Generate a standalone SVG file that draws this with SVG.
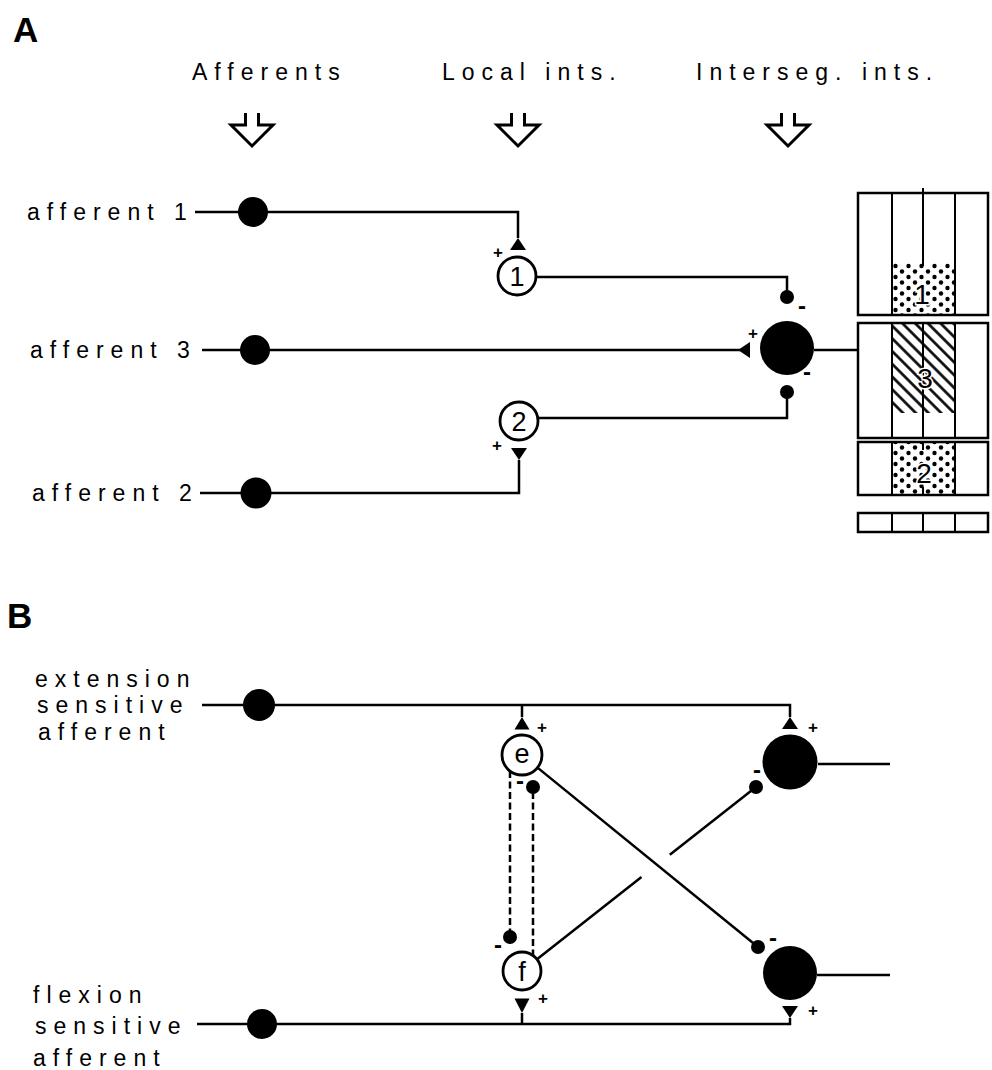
<svg xmlns="http://www.w3.org/2000/svg" width="992" height="1070" viewBox="0 0 992 1070">
<style>
.ln{stroke:#000;stroke-width:2.5;fill:none}
.dsh{stroke:#000;stroke-width:2.5;fill:none;stroke-dasharray:7 3.5}
.soma{fill:#000}
.int{fill:#fff;stroke:#000;stroke-width:2.8}
.tri{fill:#000}
.lbl{font-family:"Liberation Sans",Arial,sans-serif;font-size:23px;letter-spacing:7px;fill:#000}
.hd{font-family:"Liberation Sans",Arial,sans-serif;font-size:35px;font-weight:bold;fill:#000}
.num{font-family:"Liberation Sans",Arial,sans-serif;font-size:27px;fill:#000;text-anchor:middle}
.bnum{font-family:"Liberation Sans",Arial,sans-serif;font-size:28px;fill:#000;text-anchor:middle;stroke:#fff;stroke-width:3;paint-order:stroke}
.pl{font-family:"Liberation Sans",Arial,sans-serif;font-size:17px;font-weight:bold;fill:#000;text-anchor:middle}
.mi{font-family:"Liberation Sans",Arial,sans-serif;font-size:24px;font-weight:bold;fill:#000;text-anchor:middle}
.box{fill:none;stroke:#000;stroke-width:2.5}
.div{stroke:#000;stroke-width:2}
.arr{fill:none;stroke:#000;stroke-width:3;stroke-linejoin:miter}
</style>
<defs>
<pattern id="dots" width="13" height="11" patternUnits="userSpaceOnUse" x="892" y="263">
<rect width="13" height="11" fill="#fff"/>
<circle cx="3.5" cy="3" r="2.2" fill="#000"/>
<circle cx="10" cy="8.5" r="2.2" fill="#000"/>
</pattern>
<pattern id="hatch" width="9" height="9" patternUnits="userSpaceOnUse" patternTransform="rotate(-45)">
<rect width="9" height="9" fill="#fff"/>
<line x1="4.5" y1="0" x2="4.5" y2="9" stroke="#000" stroke-width="2.6"/>
</pattern>
<path id="hollowArrow" class="arr" d="M -6.5 0 V 12 H -21 L 0 33 L 21 12 H 6.5 V 0"/>
</defs>

<!-- Panel A headings -->
<text class="hd" x="13" y="42">A</text>
<text class="lbl" x="192" y="80">Afferents</text>
<text class="lbl" x="442" y="80">Local ints.</text>
<text class="lbl" x="696" y="80">Interseg. ints.</text>
<g id="header-arrows">
<use href="#hollowArrow" x="252" y="113"/>
<use href="#hollowArrow" x="518" y="113"/>
<use href="#hollowArrow" x="788" y="113"/>
</g>

<!-- Panel A connectors -->
<g id="connectors-A">
<path class="ln" d="M 195 212 H 518 V 238"/>
<polygon class="tri" points="518,238 510,250 526,250"/>
<path class="ln" d="M 536 277 H 787 V 297"/>
<path class="ln" d="M 202 350 H 740"/>
<polygon class="tri" points="738,350 750,342 750,358"/>
<path class="ln" d="M 814 350 H 858"/>
<path class="ln" d="M 787 392 V 418 H 538"/>
<path class="ln" d="M 200 493 H 519 V 460"/>
<polygon class="tri" points="519,460 511,448 527,448"/>
<circle class="soma" cx="787" cy="297" r="7"/>
<circle class="soma" cx="787" cy="392" r="7"/>
<text class="pl" x="498" y="258">+</text>
<text class="pl" x="497" y="451">+</text>
<text class="pl" x="753" y="339">+</text>
<text class="mi" x="802" y="314">-</text>
<text class="mi" x="807" y="380">-</text>
</g>

<!-- Panel A nodes -->
<g id="afferent1">
<text class="lbl" x="27" y="220">afferent 1</text>
<circle class="soma" cx="253" cy="212" r="15"/>
</g>
<g id="afferent3">
<text class="lbl" x="30" y="358">afferent 3</text>
<circle class="soma" cx="255" cy="350" r="15"/>
</g>
<g id="afferent2">
<text class="lbl" x="32" y="501">afferent 2</text>
<circle class="soma" cx="256" cy="493" r="15.5"/>
</g>
<g id="local1">
<circle class="int" cx="517" cy="276" r="19"/>
<text class="num" x="517" y="286">1</text>
</g>
<g id="local2">
<circle class="int" cx="519" cy="421" r="19"/>
<text class="num" x="519" y="431">2</text>
</g>
<g id="interseg">
<circle class="soma" cx="787" cy="348" r="27"/>
</g>

<!-- Boxes -->
<g id="box1">
<rect x="892" y="263" width="63" height="52" fill="url(#dots)"/>
<rect class="box" x="858" y="193" width="130" height="122"/>
<line class="div" x1="892" y1="193" x2="892" y2="315"/>
<line class="div" x1="955" y1="193" x2="955" y2="315"/>
<line class="div" x1="923" y1="188" x2="923" y2="266"/>
<text class="bnum" x="922" y="304">1</text>
</g>
<g id="box3">
<rect x="892" y="323" width="63" height="90" fill="url(#hatch)"/>
<rect class="box" x="858" y="323" width="130" height="115"/>
<line class="div" x1="892" y1="323" x2="892" y2="438"/>
<line class="div" x1="955" y1="323" x2="955" y2="438"/>
<line class="div" x1="923" y1="323" x2="923" y2="438"/>
<text class="bnum" x="925" y="388">3</text>
</g>
<g id="box2">
<rect x="892" y="442" width="63" height="53" fill="url(#dots)"/>
<rect class="box" x="858" y="442" width="130" height="53"/>
<line class="div" x1="892" y1="442" x2="892" y2="495"/>
<line class="div" x1="955" y1="442" x2="955" y2="495"/>
<line class="div" x1="923" y1="442" x2="923" y2="450"/>
<line class="div" x1="923" y1="487" x2="923" y2="495"/>
<text class="bnum" x="924" y="483">2</text>
</g>
<g id="box4">
<rect class="box" x="858" y="513" width="130" height="19"/>
<line class="div" x1="892" y1="513" x2="892" y2="532"/>
<line class="div" x1="923" y1="513" x2="923" y2="532"/>
<line class="div" x1="955" y1="513" x2="955" y2="532"/>
</g>

<!-- Panel B -->
<text class="hd" x="7" y="628">B</text>
<g id="connectors-B">
<path class="ln" d="M 202 705 H 790 V 717"/>
<path class="ln" d="M 522 705 V 717"/>
<polygon class="tri" points="522,717 514.5,729.5 529.5,729.5"/>
<polygon class="tri" points="790,717 782,729 798,729"/>
<path class="ln" d="M 197 1024 H 790 V 1018"/>
<path class="ln" d="M 522 1024 V 1013"/>
<polygon class="tri" points="522,1013 514.5,998.5 529.5,998.5"/>
<polygon class="tri" points="790,1018 782,1006 798,1006"/>
<path class="ln" d="M 818 764 H 890"/>
<path class="ln" d="M 817 975 H 890"/>
<path class="ln" d="M 537.5 767.6 L 758 947"/>
<path class="ln" d="M 537 959.3 L 641.5 877.1"/>
<path class="ln" d="M 669.8 854.8 L 756 787"/>
<path class="dsh" d="M 510 771 V 932"/>
<path class="dsh" d="M 533 792 V 955"/>
<circle class="soma" cx="533" cy="787" r="7"/>
<circle class="soma" cx="510" cy="937" r="7"/>
<circle class="soma" cx="756" cy="787" r="7"/>
<circle class="soma" cx="758" cy="947" r="7"/>
<text class="pl" x="542" y="733">+</text>
<text class="pl" x="813" y="733">+</text>
<text class="pl" x="543" y="1004">+</text>
<text class="pl" x="813" y="1016">+</text>
<text class="mi" x="520" y="789">-</text>
<text class="mi" x="498" y="953">-</text>
<text class="mi" x="757" y="778">-</text>
<text class="mi" x="773" y="946">-</text>
</g>
<g id="ext-afferent">
<text class="lbl" x="35" y="687">extension</text>
<text class="lbl" x="37" y="713">sensitive</text>
<text class="lbl" x="38" y="740">afferent</text>
<circle class="soma" cx="259" cy="705" r="16"/>
</g>
<g id="flex-afferent">
<text class="lbl" x="33" y="1003">flexion</text>
<text class="lbl" x="35" y="1034">sensitive</text>
<text class="lbl" x="33" y="1066">afferent</text>
<circle class="soma" cx="262" cy="1024" r="15"/>
</g>
<g id="int-e">
<circle class="int" cx="522" cy="755" r="20"/>
<text class="num" x="522" y="763">e</text>
</g>
<g id="int-f">
<circle class="int" cx="522" cy="971" r="19"/>
<text class="num" x="522" y="981">f</text>
</g>
<g id="mn-ext">
<circle class="soma" cx="790" cy="762" r="27.5"/>
</g>
<g id="mn-flex">
<circle class="soma" cx="790" cy="973" r="27"/>
</g>
</svg>
